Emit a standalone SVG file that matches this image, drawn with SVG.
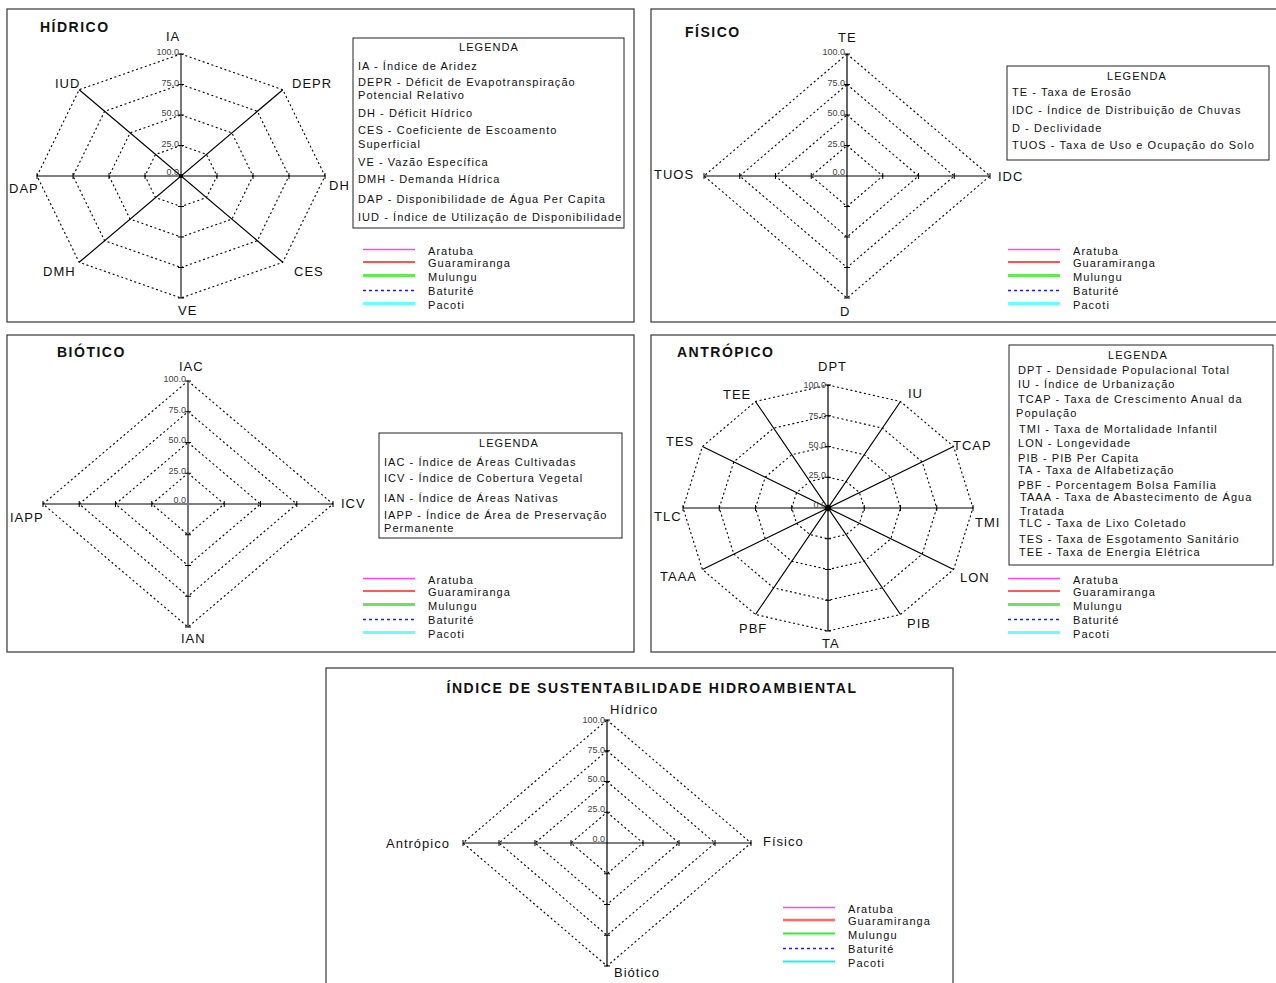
<svg xmlns="http://www.w3.org/2000/svg" width="1276" height="983" viewBox="0 0 1276 983">
<style>
.panel{fill:#fff;stroke:#444;stroke-width:1.3}
text{font-family:"Liberation Sans",Arial,sans-serif;fill:#111}
.title{font-size:14px;font-weight:bold;letter-spacing:1.5px}
.ax{font-size:13px;letter-spacing:1px}
.tk{font-size:9px;fill:#444;text-anchor:end}
.lg{font-size:11px;letter-spacing:1.05px}
.mid{text-anchor:middle}
.ring{fill:none;stroke:#000;stroke-width:1.1;stroke-dasharray:2 2.6}
.axis{stroke:#000;stroke-width:1.2;fill:none}
.gaxis{stroke:#777;stroke-width:2;fill:none}
.tick{stroke:#000;stroke-width:1;fill:none}
.box{fill:#fff;stroke:#222;stroke-width:1}
.s1{stroke:#ff44ff;stroke-width:1.5}
.s2{stroke:#ff1a1a;stroke-width:1.5}
.s3{stroke:#66e855;stroke-width:3}
.s4{stroke:#1a1aff;stroke-width:1.4;stroke-dasharray:3 3}
.s5{stroke:#66ffff;stroke-width:3}
</style>
<rect width="1276" height="983" fill="#fff"/>

<!-- HÍDRICO -->
<g id="hidrico">
<rect class="panel" x="7" y="9" width="627" height="313"/>
<text class="title" x="40" y="32">HÍDRICO</text>
<g id="hidrico-rings">
<polygon class="ring" points="181,54 282.8,89.7 325,176 282.8,262.3 181,298 79.2,262.3 37,176 79.2,89.7"/>
<polygon class="ring" points="181,84.5 257.4,111.3 289,176 257.4,240.7 181,267.5 104.6,240.7 73,176 104.6,111.3"/>
<polygon class="ring" points="181,115 231.9,132.9 253,176 231.9,219.1 181,237 130.1,219.1 109,176 130.1,132.9"/>
<polygon class="ring" points="181,145.5 206.5,154.4 217,176 206.5,197.6 181,206.5 155.5,197.6 145,176 155.5,154.4"/>
</g>
<g id="hidrico-axes">
<path class="axis" d="M37,176H325M79.2,89.7L282.8,262.3M282.8,89.7L79.2,262.3"/>
<path class="gaxis" d="M181,54V298"/>
<path class="tick" d="M178,54h6M178,84.5h6M178,115h6M178,145.5h6M178,206.5h6M178,237h6M178,267.5h6M178,298h6M37,173v6M73,173v6M109,173v6M145,173v6M217,173v6M253,173v6M289,173v6M325,173v6"/>
<circle cx="181" cy="176" r="2"/>
</g>
<text class="tk" x="179" y="55">100.0</text>
<text class="tk" x="179" y="85.5">75.0</text>
<text class="tk" x="179" y="116">50.0</text>
<text class="tk" x="179" y="146.5">25.0</text>
<text class="tk" x="179" y="175">0.0</text>
<text class="ax" x="166" y="41">IA</text>
<text class="ax" x="292" y="88">DEPR</text>
<text class="ax" x="329" y="190">DH</text>
<text class="ax" x="294" y="276">CES</text>
<text class="ax" x="178" y="315">VE</text>
<text class="ax" x="43" y="276">DMH</text>
<text class="ax" x="9" y="193">DAP</text>
<text class="ax" x="55" y="88">IUD</text>
<g id="hidrico-legenda">
<rect class="box" x="353" y="38" width="271" height="190"/>
<text class="lg mid" x="489" y="51">LEGENDA</text>
<text class="lg" x="358" y="70">IA - Índice de Aridez</text>
<text class="lg" x="358" y="86">DEPR - Déficit de Evapotranspiração</text>
<text class="lg" x="358" y="99">Potencial Relativo</text>
<text class="lg" x="358" y="117">DH - Déficit Hídrico</text>
<text class="lg" x="358" y="134">CES - Coeficiente de Escoamento</text>
<text class="lg" x="358" y="148">Superficial</text>
<text class="lg" x="358" y="166">VE - Vazão Específica</text>
<text class="lg" x="358" y="183">DMH - Demanda Hídrica</text>
<text class="lg" x="358" y="203">DAP - Disponibilidade de Água Per Capita</text>
<text class="lg" x="358" y="221">IUD - Índice de Utilização de Disponibilidade</text>
</g>
<g id="hidrico-series">
<line class="s1" x1="363" y1="249.5" x2="415" y2="249.5"/>
<line class="s2" x1="363" y1="262" x2="415" y2="262"/>
<line class="s3" x1="363" y1="275.5" x2="415" y2="275.5"/>
<line class="s4" x1="363" y1="290.5" x2="415" y2="290.5"/>
<line class="s5" x1="363" y1="303.5" x2="415" y2="303.5"/>
<text class="lg" x="428" y="255">Aratuba</text>
<text class="lg" x="428" y="267">Guaramiranga</text>
<text class="lg" x="428" y="281">Mulungu</text>
<text class="lg" x="428" y="295">Baturité</text>
<text class="lg" x="428" y="309">Pacoti</text>
</g>
</g>

<!-- FÍSICO -->
<g id="fisico">
<rect class="panel" x="651" y="9" width="640" height="313"/>
<text class="title" x="685" y="37">FÍSICO</text>
<g id="fisico-rings">
<polygon class="ring" points="847,54 990,176 847,298 704,176"/>
<polygon class="ring" points="847,84.5 954.25,176 847,267.5 739.75,176"/>
<polygon class="ring" points="847,115 918.5,176 847,237 775.5,176"/>
<polygon class="ring" points="847,145.5 882.75,176 847,206.5 811.25,176"/>
</g>
<g id="fisico-axes">
<path class="axis" d="M847,54V298M704,176H990"/>
<path class="tick" d="M844,54h6M844,84.5h6M844,115h6M844,145.5h6M844,206.5h6M844,237h6M844,267.5h6M844,298h6M704,173v6M739.75,173v6M775.5,173v6M811.25,173v6M882.75,173v6M918.5,173v6M954.25,173v6M990,173v6"/>
</g>
<text class="tk" x="845" y="55">100.0</text>
<text class="tk" x="845" y="85.5">75.0</text>
<text class="tk" x="845" y="116">50.0</text>
<text class="tk" x="845" y="146.5">25.0</text>
<text class="tk" x="845" y="175">0.0</text>
<text class="ax" x="838" y="42">TE</text>
<text class="ax" x="998" y="181">IDC</text>
<text class="ax" x="840" y="316">D</text>
<text class="ax" x="654" y="179">TUOS</text>
<g id="fisico-legenda">
<rect class="box" x="1007" y="66" width="262" height="94"/>
<text class="lg mid" x="1137" y="80">LEGENDA</text>
<text class="lg" x="1012" y="96">TE - Taxa de Erosão</text>
<text class="lg" x="1012" y="114">IDC - Índice de Distribuição de Chuvas</text>
<text class="lg" x="1012" y="132">D - Declividade</text>
<text class="lg" x="1012" y="149">TUOS - Taxa de Uso e Ocupação do Solo</text>
</g>
<g id="fisico-series" transform="translate(645,0)">
<line class="s1" x1="363" y1="249.5" x2="415" y2="249.5"/>
<line class="s2" x1="363" y1="262" x2="415" y2="262"/>
<line class="s3" x1="363" y1="275.5" x2="415" y2="275.5"/>
<line class="s4" x1="363" y1="290.5" x2="415" y2="290.5"/>
<line class="s5" x1="363" y1="303.5" x2="415" y2="303.5"/>
<text class="lg" x="428" y="255">Aratuba</text>
<text class="lg" x="428" y="267">Guaramiranga</text>
<text class="lg" x="428" y="281">Mulungu</text>
<text class="lg" x="428" y="295">Baturité</text>
<text class="lg" x="428" y="309">Pacoti</text>
</g>
</g>

<!-- BIÓTICO -->
<g id="biotico">
<rect class="panel" x="7" y="335" width="627" height="317"/>
<text class="title" x="57" y="357">BIÓTICO</text>
<g id="biotico-rings">
<polygon class="ring" points="188,381 333,504 188,627 43,504"/>
<polygon class="ring" points="188,411.75 296.75,504 188,596.25 79.25,504"/>
<polygon class="ring" points="188,442.5 260.5,504 188,565.5 115.5,504"/>
<polygon class="ring" points="188,473.25 224.25,504 188,534.75 151.75,504"/>
</g>
<g id="biotico-axes">
<path class="axis" d="M43,504H333"/>
<path class="gaxis" d="M188,381V627"/>
<path class="tick" d="M185,381h6M185,411.75h6M185,442.5h6M185,473.25h6M185,534.75h6M185,565.5h6M185,596.25h6M185,627h6M43,501v6M79.25,501v6M115.5,501v6M151.75,501v6M224.25,501v6M260.5,501v6M296.75,501v6M333,501v6"/>
</g>
<text class="tk" x="186" y="382">100.0</text>
<text class="tk" x="186" y="412.5">75.0</text>
<text class="tk" x="186" y="443">50.0</text>
<text class="tk" x="186" y="473.5">25.0</text>
<text class="tk" x="186" y="503">0.0</text>
<text class="ax" x="179" y="371">IAC</text>
<text class="ax" x="341" y="508">ICV</text>
<text class="ax" x="181" y="643">IAN</text>
<text class="ax" x="10" y="522">IAPP</text>
<g id="biotico-legenda">
<rect class="box" x="379" y="433" width="243" height="105"/>
<text class="lg mid" x="509" y="447">LEGENDA</text>
<text class="lg" x="384" y="466">IAC - Índice de Áreas Cultivadas</text>
<text class="lg" x="384" y="482">ICV - Índice de Cobertura Vegetal</text>
<text class="lg" x="384" y="502">IAN - Índice de Áreas Nativas</text>
<text class="lg" x="384" y="519">IAPP - Índice de Área de Preservação</text>
<text class="lg" x="384" y="532">Permanente</text>
</g>
<g id="biotico-series" transform="translate(0,329)">
<line class="s1" x1="363" y1="249.5" x2="415" y2="249.5"/>
<line class="s2" x1="363" y1="262" x2="415" y2="262" style="stroke:#ff5a5a;stroke-width:2"/>
<line class="s3" x1="363" y1="275.5" x2="415" y2="275.5"/>
<line class="s4" x1="363" y1="290.5" x2="415" y2="290.5"/>
<line class="s5" x1="363" y1="303.5" x2="415" y2="303.5"/>
<text class="lg" x="428" y="255">Aratuba</text>
<text class="lg" x="428" y="267">Guaramiranga</text>
<text class="lg" x="428" y="281">Mulungu</text>
<text class="lg" x="428" y="295">Baturité</text>
<text class="lg" x="428" y="309">Pacoti</text>
</g>
</g>

<!-- ANTRÓPICO -->
<g id="antropico">
<rect class="panel" x="651" y="335" width="640" height="317"/>
<text class="title" x="677" y="357">ANTRÓPICO</text>
<g id="antropico-rings">
<polygon class="ring" points="828,385 900.5,401.5 953.6,446.5 973,508 953.6,569.5 900.5,614.5 828,631 755.5,614.5 702.4,569.5 683,508 702.4,446.5 755.5,401.5"/>
<polygon class="ring" points="828,415.75 882.4,428.1 922.2,461.9 936.75,508 922.2,554.1 882.4,587.9 828,600.25 773.6,587.9 733.8,554.1 719.25,508 733.8,461.9 773.6,428.1"/>
<polygon class="ring" points="828,446.5 864.25,454.7 890.8,477.25 900.5,508 890.8,538.75 864.25,561.3 828,569.5 791.75,561.3 765.2,538.75 755.5,508 765.2,477.25 791.75,454.7"/>
<polygon class="ring" points="828,477.25 846.1,481.4 859.4,492.6 864.25,508 859.4,523.4 846.1,534.6 828,538.75 809.9,534.6 796.6,523.4 791.75,508 796.6,492.6 809.9,481.4"/>
</g>
<g id="antropico-axes">
<path class="axis" d="M828,385V631M900.5,401.5L755.5,614.5M953.6,446.5L702.4,569.5M973,508H683M953.6,569.5L702.4,446.5M900.5,614.5L755.5,401.5"/>
<path class="tick" d="M825,385h6M825,415.75h6M825,446.5h6M825,477.25h6M825,538.75h6M825,569.5h6M825,600.25h6M825,631h6M683,505v6M719.25,505v6M755.5,505v6M791.75,505v6M864.25,505v6M900.5,505v6M936.75,505v6M973,505v6"/>
<circle cx="828" cy="508" r="3.2"/>
</g>
<text class="tk" x="826" y="388">100.0</text>
<text class="tk" x="826" y="418.5">75.0</text>
<text class="tk" x="826" y="447.5">50.0</text>
<text class="tk" x="826" y="478">25.0</text>
<text class="tk" x="826" y="508">0.0</text>
<text class="ax" x="818" y="371">DPT</text>
<text class="ax" x="908" y="398">IU</text>
<text class="ax" x="953" y="450">TCAP</text>
<text class="ax" x="975" y="527">TMI</text>
<text class="ax" x="960" y="582">LON</text>
<text class="ax" x="907" y="628">PIB</text>
<text class="ax" x="822" y="648">TA</text>
<text class="ax" x="739" y="633">PBF</text>
<text class="ax" x="660" y="581">TAAA</text>
<text class="ax" x="654" y="521">TLC</text>
<text class="ax" x="666" y="446">TES</text>
<text class="ax" x="723" y="399">TEE</text>
<g id="antropico-legenda">
<rect class="box" x="1009" y="345" width="264" height="220"/>
<text class="lg mid" x="1138" y="359">LEGENDA</text>
<text class="lg" x="1018" y="374">DPT - Densidade Populacional Total</text>
<text class="lg" x="1018" y="388">IU - Índice de Urbanização</text>
<text class="lg" x="1018" y="403">TCAP - Taxa de Crescimento Anual da</text>
<text class="lg" x="1016" y="417">População</text>
<text class="lg" x="1019" y="433">TMI - Taxa de Mortalidade Infantil</text>
<text class="lg" x="1018" y="447">LON - Longevidade</text>
<text class="lg" x="1018" y="462">PIB - PIB Per Capita</text>
<text class="lg" x="1018" y="474">TA - Taxa de Alfabetização</text>
<text class="lg" x="1018" y="489">PBF - Porcentagem Bolsa Família</text>
<text class="lg" x="1020" y="501">TAAA - Taxa de Abastecimento de Água</text>
<text class="lg" x="1020" y="515">Tratada</text>
<text class="lg" x="1019" y="527">TLC - Taxa de Lixo Coletado</text>
<text class="lg" x="1019" y="543">TES - Taxa de Esgotamento Sanitário</text>
<text class="lg" x="1019" y="556">TEE - Taxa de Energia Elétrica</text>
</g>
<g id="antropico-series" transform="translate(645,329)">
<line class="s1" x1="363" y1="249.5" x2="415" y2="249.5"/>
<line class="s2" x1="363" y1="262" x2="415" y2="262" style="stroke:#ff5a5a;stroke-width:2"/>
<line class="s3" x1="363" y1="275.5" x2="415" y2="275.5"/>
<line class="s4" x1="363" y1="290.5" x2="415" y2="290.5"/>
<line class="s5" x1="363" y1="303.5" x2="415" y2="303.5"/>
<text class="lg" x="428" y="255">Aratuba</text>
<text class="lg" x="428" y="267">Guaramiranga</text>
<text class="lg" x="428" y="281">Mulungu</text>
<text class="lg" x="428" y="295">Baturité</text>
<text class="lg" x="428" y="309">Pacoti</text>
</g>
</g>

<!-- ÍNDICE DE SUSTENTABILIDADE HIDROAMBIENTAL -->
<g id="indice">
<rect class="panel" x="326" y="668" width="627" height="330"/>
<text class="title mid" x="652" y="693" style="letter-spacing:1.6px">ÍNDICE DE SUSTENTABILIDADE HIDROAMBIENTAL</text>
<g id="indice-rings">
<polygon class="ring" points="607,720 751,843 607,966 463,843"/>
<polygon class="ring" points="607,750.75 715,843 607,935.25 499,843"/>
<polygon class="ring" points="607,781.5 679,843 607,904.5 535,843"/>
<polygon class="ring" points="607,812.25 643,843 607,873.75 571,843"/>
</g>
<g id="indice-axes">
<path class="axis" d="M607,720V966M463,843H751"/>
<path class="tick" d="M604,720h6M604,750.75h6M604,781.5h6M604,812.25h6M604,873.75h6M604,904.5h6M604,935.25h6M604,966h6M463,840v6M499,840v6M535,840v6M571,840v6M643,840v6M679,840v6M715,840v6M751,840v6"/>
</g>
<text class="tk" x="605" y="723">100.0</text>
<text class="tk" x="605" y="753">75.0</text>
<text class="tk" x="605" y="782">50.0</text>
<text class="tk" x="605" y="812">25.0</text>
<text class="tk" x="605" y="842">0.0</text>
<text class="ax" x="610" y="714">Hídrico</text>
<text class="ax" x="763" y="846">Físico</text>
<text class="ax" x="614" y="977">Biótico</text>
<text class="ax" x="386" y="848">Antrópico</text>
<g id="indice-series" transform="translate(420,658)">
<line class="s1" x1="363" y1="249.5" x2="415" y2="249.5"/>
<line class="s2" x1="363" y1="262" x2="415" y2="262" style="stroke:#ff6a6a;stroke-width:2.5"/>
<line class="s3" x1="363" y1="275.5" x2="415" y2="275.5" style="stroke:#33ee33;stroke-width:1.8"/>
<line class="s4" x1="363" y1="290.5" x2="415" y2="290.5"/>
<line class="s5" x1="363" y1="303.5" x2="415" y2="303.5" style="stroke:#22eeee;stroke-width:1.8"/>
<text class="lg" x="428" y="255">Aratuba</text>
<text class="lg" x="428" y="267">Guaramiranga</text>
<text class="lg" x="428" y="281">Mulungu</text>
<text class="lg" x="428" y="295">Baturité</text>
<text class="lg" x="428" y="309">Pacoti</text>
</g>
</g>
</svg>
